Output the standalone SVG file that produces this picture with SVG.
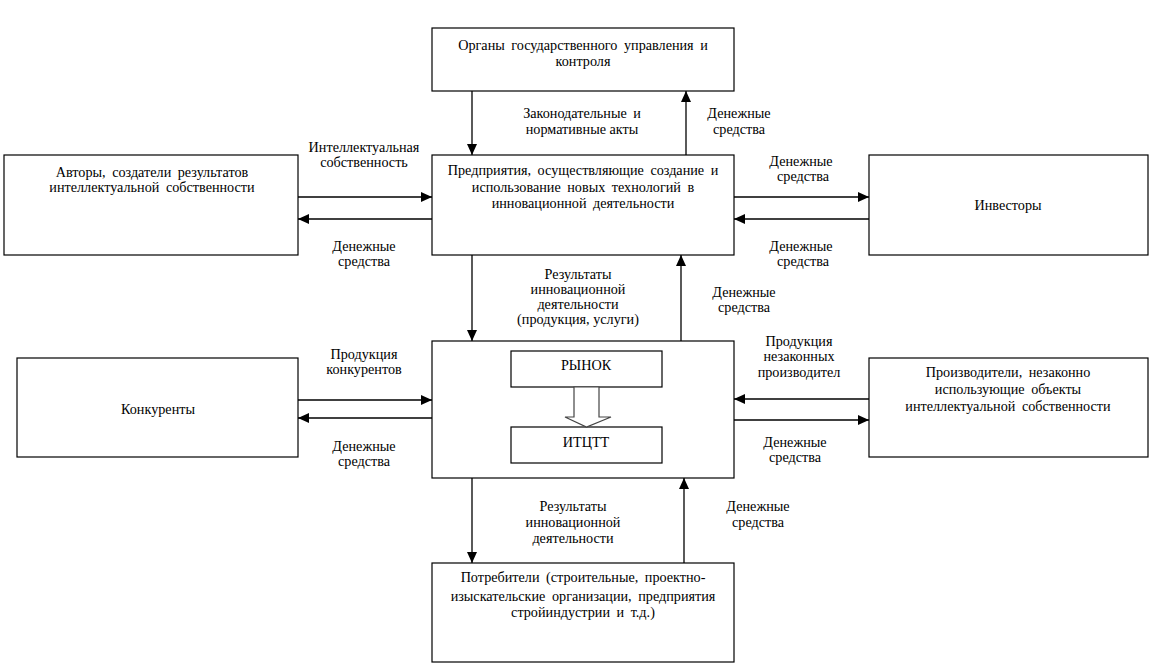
<svg xmlns="http://www.w3.org/2000/svg" width="1155" height="666" viewBox="0 0 1155 666">
<style>
.box{fill:#fff;stroke:#000;stroke-width:1.2}
.t{font-family:"Liberation Serif","Times New Roman",serif;font-size:14.2px;fill:#000;text-anchor:middle}
.w{word-spacing:3px}
.c{fill:none;stroke:#000;stroke-width:1.3}
</style>
<defs>
<marker id="ah" markerUnits="userSpaceOnUse" markerWidth="12" markerHeight="10" refX="11" refY="5" orient="auto">
<path d="M0,0 L11,5 L0,10 Z" fill="#000"/>
</marker>
</defs>
<rect width="1155" height="666" fill="#fff"/>
<g id="connectors">
<line class="c" x1="472" y1="91" x2="472" y2="155" marker-end="url(#ah)"/>
<line class="c" x1="686" y1="155" x2="686" y2="91" marker-end="url(#ah)"/>
<line class="c" x1="298" y1="197" x2="432" y2="197" marker-end="url(#ah)"/>
<line class="c" x1="432" y1="219" x2="298" y2="219" marker-end="url(#ah)"/>
<line class="c" x1="734" y1="197" x2="869" y2="197" marker-end="url(#ah)"/>
<line class="c" x1="869" y1="219" x2="734" y2="219" marker-end="url(#ah)"/>
<line class="c" x1="472" y1="255" x2="472" y2="341" marker-end="url(#ah)"/>
<line class="c" x1="681" y1="341" x2="681" y2="255" marker-end="url(#ah)"/>
<line class="c" x1="298" y1="400" x2="432" y2="400" marker-end="url(#ah)"/>
<line class="c" x1="432" y1="418" x2="298" y2="418" marker-end="url(#ah)"/>
<line class="c" x1="869" y1="399" x2="734" y2="399" marker-end="url(#ah)"/>
<line class="c" x1="734" y1="420" x2="869" y2="420" marker-end="url(#ah)"/>
<line class="c" x1="472" y1="478" x2="472" y2="563" marker-end="url(#ah)"/>
<line class="c" x1="684" y1="563" x2="684" y2="478" marker-end="url(#ah)"/>
</g>
<g id="labels">
<text class="t w" x="582" y="118">Законодательные и</text>
<text class="t" x="582" y="134">нормативные акты</text>
<text class="t" x="739" y="118">Денежные</text>
<text class="t" x="739" y="134">средства</text>
<text class="t" x="364" y="152">Интеллектуальная</text>
<text class="t" x="364" y="167">собственность</text>
<text class="t" x="364" y="251">Денежные</text>
<text class="t" x="364" y="266">средства</text>
<text class="t" x="801" y="166">Денежные</text>
<text class="t" x="803" y="181">средства</text>
<text class="t" x="801" y="251">Денежные</text>
<text class="t" x="803" y="266">средства</text>
<text class="t" x="578" y="279">Результаты</text>
<text class="t" x="578" y="294">инновационной</text>
<text class="t" x="578" y="309">деятельности</text>
<text class="t" x="578" y="324">(продукция, услуги)</text>
<text class="t" x="744" y="297">Денежные</text>
<text class="t" x="744" y="312">средства</text>
<text class="t" x="364" y="359">Продукция</text>
<text class="t" x="364" y="374">конкурентов</text>
<text class="t" x="364" y="451">Денежные</text>
<text class="t" x="364" y="466">средства</text>
<text class="t" x="799" y="346">Продукция</text>
<text class="t" x="799" y="361">незаконных</text>
<text class="t" x="799" y="377">производител</text>
<text class="t" x="795" y="447">Денежные</text>
<text class="t" x="795" y="462">средства</text>
<text class="t" x="573" y="511">Результаты</text>
<text class="t" x="573" y="527">инновационной</text>
<text class="t" x="573" y="543">деятельности</text>
<text class="t" x="758" y="511">Денежные</text>
<text class="t" x="758" y="527">средства</text>
</g>
<g id="organs">
<rect class="box" x="432" y="28" width="302" height="63"/>
<text class="t w" x="583" y="50">Органы государственного управления и</text>
<text class="t" x="583" y="66">контроля</text>
</g>
<g id="enterprises">
<rect class="box" x="432" y="155" width="302" height="100"/>
<text class="t w" x="583" y="175">Предприятия, осуществляющие создание и</text>
<text class="t w" x="583" y="192">использование новых технологий в</text>
<text class="t w" x="583" y="208">инновационной деятельности</text>
</g>
<g id="authors">
<rect class="box" x="4" y="155" width="294" height="100"/>
<text class="t w" x="152" y="177">Авторы, создатели результатов</text>
<text class="t w" x="152" y="192">интеллектуальной собственности</text>
</g>
<g id="investors">
<rect class="box" x="869" y="155" width="279" height="100"/>
<text class="t" x="1008" y="210">Инвесторы</text>
</g>
<g id="market">
<rect class="box" x="432" y="341" width="302" height="137"/>
</g>
<g id="rynok">
<rect class="box" x="511" y="351" width="151" height="36"/>
<text class="t" x="586" y="370">РЫНОК</text>
</g>
<g id="itctt">
<rect class="box" x="511" y="427" width="151" height="36"/>
<text class="t" x="586" y="447">ИТЦТТ</text>
</g>
<g id="market-arrow">
<path d="M574,387 L599,387 L599,417 L611,417 L586.5,427 L565,417 L574,417 Z" fill="#fff" stroke="#444" stroke-width="1.2"/>
</g>
<g id="competitors">
<rect class="box" x="17" y="358" width="281" height="99"/>
<text class="t" x="158" y="414">Конкуренты</text>
</g>
<g id="illegal">
<rect class="box" x="869" y="358" width="279" height="99"/>
<text class="t w" x="1008" y="377">Производители, незаконно</text>
<text class="t w" x="1008" y="394">использующие объекты</text>
<text class="t w" x="1008" y="411">интеллектуальной собственности</text>
</g>
<g id="consumers">
<rect class="box" x="432" y="563" width="302" height="99"/>
<text class="t w" x="583" y="582">Потребители (строительные, проектно-</text>
<text class="t w" x="583" y="601">изыскательские организации, предприятия</text>
<text class="t w" x="583" y="617">стройиндустрии и т.д.)</text>
</g>
</svg>
